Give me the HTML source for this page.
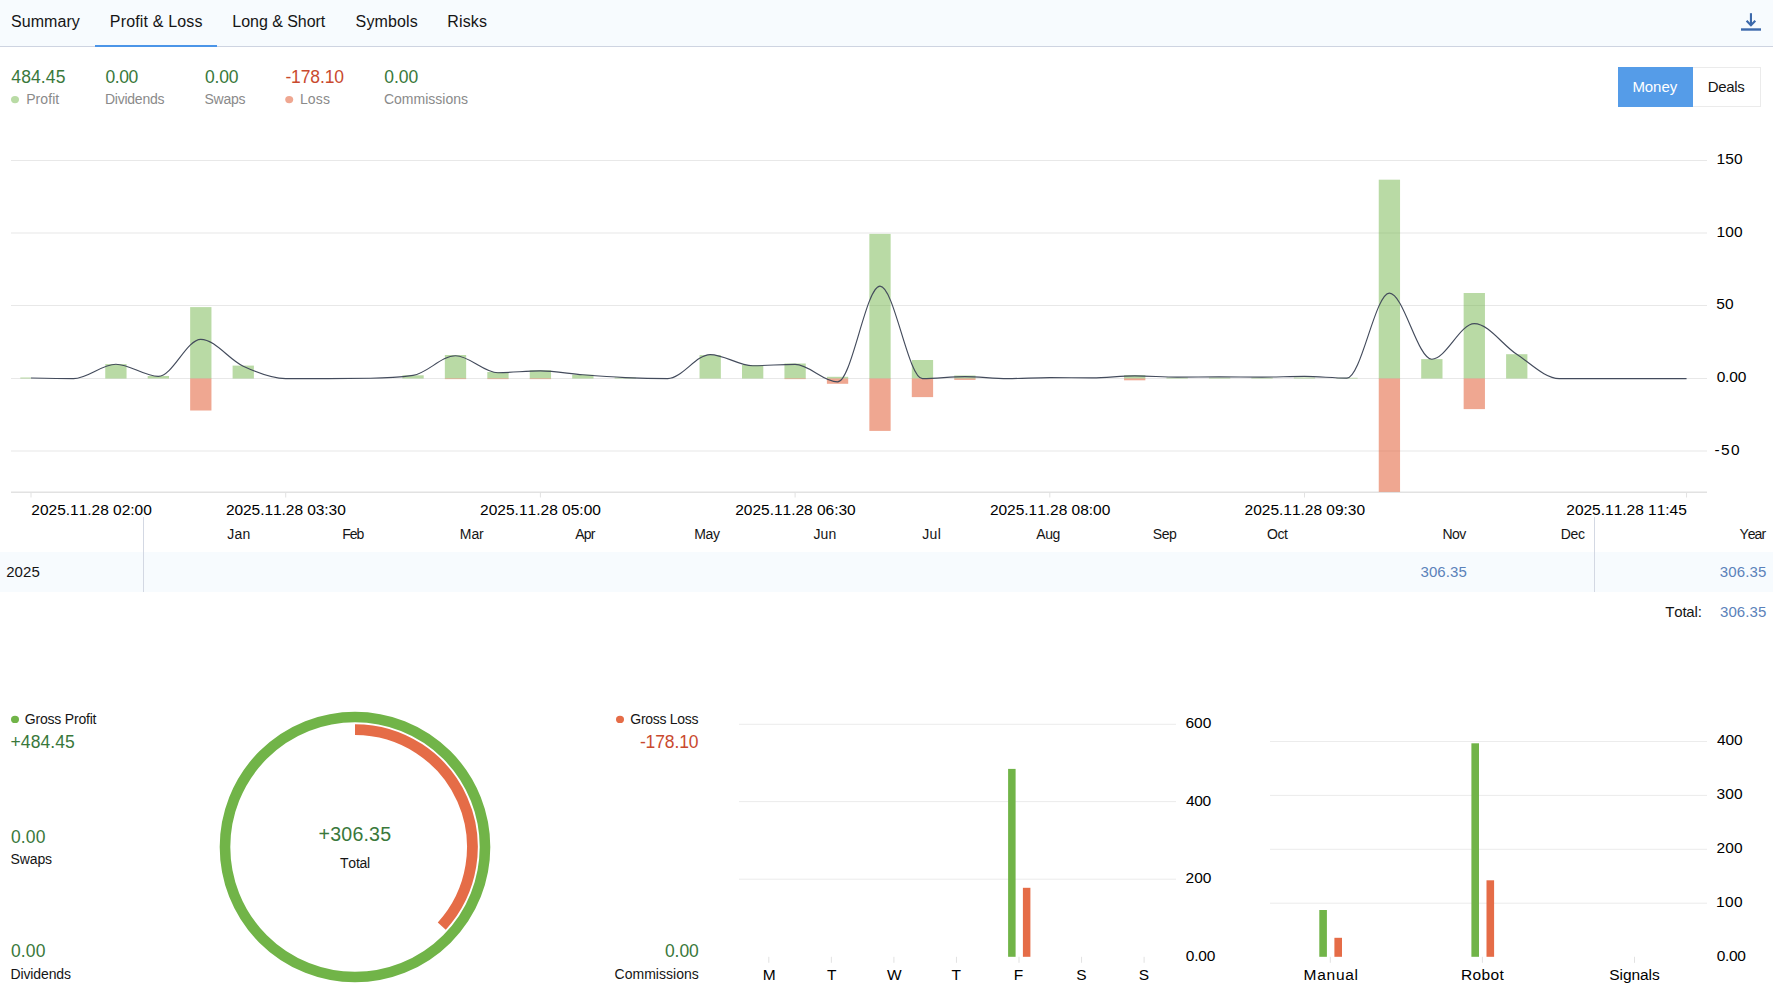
<!DOCTYPE html>
<html><head><meta charset="utf-8"><title>Profit &amp; Loss</title>
<style>
html,body{margin:0;padding:0;background:#fff;}
body{width:1773px;height:995px;position:relative;overflow:hidden;font-family:"Liberation Sans",sans-serif;}
.t{position:absolute;white-space:nowrap;line-height:1.2;font-kerning:none;}

.bar{position:absolute;left:0;top:0;width:1773px;height:46px;background:#f7fbfe;border-bottom:1px solid #ced4e1;box-sizing:content-box;}
.ul{position:absolute;left:95px;top:45px;width:122px;height:2px;background:#4b95e8;}
.btnm{position:absolute;left:1618px;top:67px;width:75px;height:40px;background:#559ce8;}
.btnd{position:absolute;left:1693px;top:67px;width:67px;height:38px;border:1px solid #ebebeb;border-left:none;background:#fff;box-sizing:content-box;}
.row{position:absolute;left:0;top:552px;width:1773px;height:40px;background:#f7fbfe;}
.vl{position:absolute;top:517px;width:1px;height:75px;background:#d3d8e3;}
svg{position:absolute;left:0;top:0;}
</style></head><body>
<div class="bar"></div><div class="ul"></div>
<div class="btnm"></div><div class="btnd"></div>
<div class="row"></div>
<div class="vl" style="left:143px"></div><div class="vl" style="left:1594px"></div>
<svg width="1773" height="995" viewBox="0 0 1773 995">
<rect x="1741" y="28.3" width="20" height="2.4" fill="#3c69ab"/><path d="M1750.95,13.2 V25.5" fill="none" stroke="#3c69ab" stroke-width="2.1"/><path d="M1746.6,20.75 L1750.95,25.15 L1755.3,20.75" fill="none" stroke="#3c69ab" stroke-width="2.2"/>
<rect x="11" y="160.00" width="1696" height="1" fill="#e8e8e8"/>
<rect x="11" y="232.50" width="1696" height="1" fill="#e8e8e8"/>
<rect x="11" y="305.00" width="1696" height="1" fill="#e8e8e8"/>
<rect x="11" y="378.00" width="1696" height="1" fill="#e8e8e8"/>
<rect x="11" y="450.50" width="1696" height="1" fill="#e8e8e8"/>
<rect x="11" y="491.5" width="1696" height="1.5" fill="#e2e2e2"/>
<rect x="30.50" y="492" width="1" height="5.5" fill="#e2e2e2"/>
<rect x="285.20" y="492" width="1" height="5.5" fill="#e2e2e2"/>
<rect x="539.90" y="492" width="1" height="5.5" fill="#e2e2e2"/>
<rect x="794.60" y="492" width="1" height="5.5" fill="#e2e2e2"/>
<rect x="1049.30" y="492" width="1" height="5.5" fill="#e2e2e2"/>
<rect x="1304.00" y="492" width="1" height="5.5" fill="#e2e2e2"/>
<rect x="1686.05" y="492" width="1" height="5.5" fill="#e2e2e2"/>
<rect x="20.35" y="377.50" width="10.65" height="1.00" fill="#71b448" fill-opacity="0.49"/>
<rect x="105.25" y="364.10" width="21.30" height="14.40" fill="#71b448" fill-opacity="0.49"/>
<rect x="147.70" y="376.00" width="21.30" height="2.50" fill="#71b448" fill-opacity="0.49"/>
<rect x="190.15" y="307.10" width="21.30" height="71.40" fill="#71b448" fill-opacity="0.49"/>
<rect x="232.60" y="365.60" width="21.30" height="12.90" fill="#71b448" fill-opacity="0.49"/>
<rect x="402.40" y="375.30" width="21.30" height="3.20" fill="#71b448" fill-opacity="0.49"/>
<rect x="444.85" y="355.00" width="21.30" height="23.50" fill="#71b448" fill-opacity="0.49"/>
<rect x="487.30" y="372.00" width="21.30" height="6.50" fill="#71b448" fill-opacity="0.49"/>
<rect x="529.75" y="370.20" width="21.30" height="8.30" fill="#71b448" fill-opacity="0.49"/>
<rect x="572.20" y="374.70" width="21.30" height="3.80" fill="#71b448" fill-opacity="0.49"/>
<rect x="614.65" y="377.50" width="21.30" height="1.00" fill="#71b448" fill-opacity="0.49"/>
<rect x="699.55" y="355.10" width="21.30" height="23.40" fill="#71b448" fill-opacity="0.49"/>
<rect x="742.00" y="365.00" width="21.30" height="13.50" fill="#71b448" fill-opacity="0.49"/>
<rect x="784.45" y="363.50" width="21.30" height="15.00" fill="#71b448" fill-opacity="0.49"/>
<rect x="826.90" y="376.80" width="21.30" height="1.70" fill="#71b448" fill-opacity="0.49"/>
<rect x="869.35" y="233.90" width="21.30" height="144.60" fill="#71b448" fill-opacity="0.49"/>
<rect x="911.80" y="360.00" width="21.30" height="18.50" fill="#71b448" fill-opacity="0.49"/>
<rect x="954.25" y="375.50" width="21.30" height="3.00" fill="#71b448" fill-opacity="0.49"/>
<rect x="1124.05" y="375.10" width="21.30" height="3.40" fill="#71b448" fill-opacity="0.49"/>
<rect x="1166.50" y="377.50" width="21.30" height="1.00" fill="#71b448" fill-opacity="0.49"/>
<rect x="1208.95" y="377.50" width="21.30" height="1.00" fill="#71b448" fill-opacity="0.49"/>
<rect x="1251.40" y="377.50" width="21.30" height="1.00" fill="#71b448" fill-opacity="0.49"/>
<rect x="1293.85" y="377.50" width="21.30" height="1.00" fill="#71b448" fill-opacity="0.49"/>
<rect x="1336.30" y="377.80" width="21.30" height="0.70" fill="#71b448" fill-opacity="0.49"/>
<rect x="1378.75" y="179.70" width="21.30" height="198.80" fill="#71b448" fill-opacity="0.49"/>
<rect x="1421.20" y="359.10" width="21.30" height="19.40" fill="#71b448" fill-opacity="0.49"/>
<rect x="1463.65" y="293.00" width="21.30" height="85.50" fill="#71b448" fill-opacity="0.49"/>
<rect x="1506.10" y="354.20" width="21.30" height="24.30" fill="#71b448" fill-opacity="0.49"/>
<rect x="190.15" y="378.50" width="21.30" height="32.00" fill="#e56c47" fill-opacity="0.6"/>
<rect x="444.85" y="378.50" width="21.30" height="0.60" fill="#e56c47" fill-opacity="0.6"/>
<rect x="487.30" y="378.50" width="21.30" height="0.60" fill="#e56c47" fill-opacity="0.6"/>
<rect x="529.75" y="378.50" width="21.30" height="0.60" fill="#e56c47" fill-opacity="0.6"/>
<rect x="784.45" y="378.50" width="21.30" height="0.60" fill="#e56c47" fill-opacity="0.6"/>
<rect x="826.90" y="378.50" width="21.30" height="5.30" fill="#e56c47" fill-opacity="0.6"/>
<rect x="869.35" y="378.50" width="21.30" height="52.40" fill="#e56c47" fill-opacity="0.6"/>
<rect x="911.80" y="378.50" width="21.30" height="18.60" fill="#e56c47" fill-opacity="0.6"/>
<rect x="954.25" y="378.50" width="21.30" height="1.40" fill="#e56c47" fill-opacity="0.6"/>
<rect x="1124.05" y="378.50" width="21.30" height="1.80" fill="#e56c47" fill-opacity="0.6"/>
<rect x="1378.75" y="378.50" width="21.30" height="113.40" fill="#e56c47" fill-opacity="0.6"/>
<rect x="1463.65" y="378.50" width="21.30" height="30.60" fill="#e56c47" fill-opacity="0.6"/>
<path d="M31.00,378.00C45.15,378.30 59.30,378.60 73.45,378.60C87.60,378.60 101.75,364.20 115.90,364.20C130.05,364.20 144.20,376.40 158.35,376.40C172.50,376.40 186.65,339.30 200.80,339.30C214.95,339.30 229.10,359.75 243.25,366.30C257.40,372.85 271.55,378.60 285.70,378.60C299.85,378.60 314.00,378.60 328.15,378.60C342.30,378.60 356.45,378.50 370.60,378.30C384.75,378.10 398.90,377.33 413.05,375.40C427.20,373.47 441.35,355.70 455.50,355.70C469.65,355.70 483.80,372.70 497.95,372.70C512.10,372.70 526.25,370.90 540.40,370.90C554.55,370.90 568.70,373.68 582.85,374.80C597.00,375.92 611.15,376.97 625.30,377.60C639.45,378.23 653.60,378.60 667.75,378.60C681.90,378.60 696.05,354.60 710.20,354.60C724.35,354.60 738.50,365.70 752.65,365.70C766.80,365.70 780.95,364.40 795.10,364.40C809.25,364.40 823.40,381.90 837.55,381.90C851.70,381.90 865.85,286.20 880.00,286.20C894.15,286.20 908.30,378.60 922.45,378.60C936.60,378.60 950.75,376.60 964.90,376.60C979.05,376.60 993.20,378.60 1007.35,378.60C1021.50,378.60 1035.65,377.60 1049.80,377.60C1063.95,377.60 1078.10,377.90 1092.25,377.90C1106.40,377.90 1120.55,375.90 1134.70,375.90C1148.85,375.90 1163.00,377.10 1177.15,377.10C1191.30,377.10 1205.45,376.80 1219.60,376.80C1233.75,376.80 1247.90,377.10 1262.05,377.10C1276.20,377.10 1290.35,376.40 1304.50,376.40C1318.65,376.40 1332.80,378.10 1346.95,378.10C1361.10,378.10 1375.25,293.10 1389.40,293.10C1403.55,293.10 1417.70,359.20 1431.85,359.20C1446.00,359.20 1460.15,323.60 1474.30,323.60C1488.45,323.60 1502.60,345.13 1516.75,354.30C1530.90,363.47 1545.05,378.60 1559.20,378.60C1573.35,378.60 1587.50,378.60 1601.65,378.60C1615.80,378.60 1629.95,378.60 1644.10,378.60C1658.25,378.60 1672.40,378.60 1686.55,378.60" fill="none" stroke="#434b5c" stroke-width="1.15"/>
<circle cx="355" cy="847" r="130" fill="none" stroke="#71b448" stroke-width="10.6"/>
<path d="M355.00,729.60 A117.4,117.4 0 0 1 441.77,926.08" fill="none" stroke="#e56c47" stroke-width="10.8"/>
<ellipse cx="15" cy="719.4" rx="4" ry="3.7" fill="#71b448"/>
<ellipse cx="620" cy="719.4" rx="4" ry="3.7" fill="#e56c47"/>
<ellipse cx="15" cy="99.6" rx="4" ry="3.6" fill="#b9dba5"/>
<ellipse cx="289.2" cy="99.6" rx="4" ry="3.6" fill="#efa791"/>
<rect x="739" y="723.80" width="437" height="1" fill="#ececec"/>
<rect x="739" y="801.10" width="437" height="1" fill="#ececec"/>
<rect x="739" y="878.70" width="437" height="1" fill="#ececec"/>
<rect x="768.30" y="956.8" width="1" height="6" fill="#e2e2e2"/>
<rect x="830.85" y="956.8" width="1" height="6" fill="#e2e2e2"/>
<rect x="893.40" y="956.8" width="1" height="6" fill="#e2e2e2"/>
<rect x="955.95" y="956.8" width="1" height="6" fill="#e2e2e2"/>
<rect x="1018.50" y="956.8" width="1" height="6" fill="#e2e2e2"/>
<rect x="1081.05" y="956.8" width="1" height="6" fill="#e2e2e2"/>
<rect x="1143.60" y="956.8" width="1" height="6" fill="#e2e2e2"/>
<rect x="1008.10" y="768.9" width="7.5" height="187.90" fill="#71b448"/>
<rect x="1022.90" y="887.8" width="7.5" height="69.00" fill="#e56c47"/>
<rect x="1270" y="741.00" width="437" height="1" fill="#ececec"/>
<rect x="1270" y="794.90" width="437" height="1" fill="#ececec"/>
<rect x="1270" y="848.80" width="437" height="1" fill="#ececec"/>
<rect x="1270" y="902.70" width="437" height="1" fill="#ececec"/>
<rect x="1329.80" y="956.8" width="1" height="6" fill="#e2e2e2"/>
<rect x="1481.90" y="956.8" width="1" height="6" fill="#e2e2e2"/>
<rect x="1634.00" y="956.8" width="1" height="6" fill="#e2e2e2"/>
<rect x="1319.30" y="910.00" width="7.6" height="46.80" fill="#71b448"/>
<rect x="1334.40" y="937.80" width="7.6" height="19.00" fill="#e56c47"/>
<rect x="1471.40" y="743.30" width="7.6" height="213.50" fill="#71b448"/>
<rect x="1486.50" y="880.30" width="7.6" height="76.50" fill="#e56c47"/>
</svg>
<span class="t" id="tab1" style="left:10.94px;top:12.00px;font-size:16px;color:#151515;letter-spacing:0.075px">Summary</span>
<span class="t" id="tab2" style="left:109.86px;top:12.00px;font-size:16px;color:#151515;letter-spacing:0.152px">Profit &amp; Loss</span>
<span class="t" id="tab3" style="left:232.33px;top:12.00px;font-size:16px;color:#151515;letter-spacing:-0.044px">Long &amp; Short</span>
<span class="t" id="tab4" style="left:355.61px;top:12.00px;font-size:16px;color:#151515;letter-spacing:0.125px">Symbols</span>
<span class="t" id="tab5" style="left:447.28px;top:12.00px;font-size:16px;color:#151515;letter-spacing:0.143px">Risks</span>
<span class="t" id="sv1" style="left:11.31px;top:66.60px;font-size:17.5px;color:#39783b;letter-spacing:0.119px">484.45</span>
<span class="t" id="sv2" style="left:105.38px;top:66.60px;font-size:17.5px;color:#39783b;letter-spacing:-0.376px">0.00</span>
<span class="t" id="sv3" style="left:205.00px;top:66.60px;font-size:17.5px;color:#39783b;letter-spacing:-0.225px">0.00</span>
<span class="t" id="sv4" style="left:285.38px;top:66.60px;font-size:17.5px;color:#c9492e;letter-spacing:-0.126px">-178.10</span>
<span class="t" id="sv5" style="left:384.22px;top:66.60px;font-size:17.5px;color:#39783b;letter-spacing:-0.042px">0.00</span>
<span class="t" id="sl1" style="left:26.20px;top:90.70px;font-size:14px;color:#8a8a8a;letter-spacing:0.067px">Profit</span>
<span class="t" id="sl2" style="left:104.88px;top:90.70px;font-size:14px;color:#8a8a8a;letter-spacing:-0.224px">Dividends</span>
<span class="t" id="sl3" style="left:204.58px;top:90.70px;font-size:14px;color:#8a8a8a;letter-spacing:-0.299px">Swaps</span>
<span class="t" id="sl4" style="left:299.94px;top:90.70px;font-size:14px;color:#8a8a8a;letter-spacing:0.130px">Loss</span>
<span class="t" id="sl5" style="left:383.97px;top:90.70px;font-size:14px;color:#8a8a8a;letter-spacing:0.000px">Commissions</span>
<span class="t" id="btn1" style="left:1632.41px;top:78.20px;font-size:15px;color:#ffffff;letter-spacing:-0.070px">Money</span>
<span class="t" id="btn2" style="left:1707.83px;top:78.20px;font-size:15px;color:#151515;letter-spacing:-0.328px">Deals</span>
<span class="t c" id="y150" style="left:1716.41px;top:149.50px;font-size:15.5px;color:#000000;letter-spacing:0.212px">150</span>
<span class="t c" id="y100" style="left:1716.41px;top:223.00px;font-size:15.5px;color:#000000;letter-spacing:0.212px">100</span>
<span class="t c" id="y50" style="left:1716.28px;top:295.00px;font-size:15.5px;color:#000000;letter-spacing:0.202px">50</span>
<span class="t c" id="y0" style="left:1716.64px;top:367.50px;font-size:15.5px;color:#000000;letter-spacing:-0.154px">0.00</span>
<span class="t c" id="ym50" style="left:1714.38px;top:441.20px;font-size:15.5px;color:#000000;letter-spacing:1.444px">-50</span>
<span class="t c" id="x1" style="left:31.30px;top:500.80px;font-size:15.5px;color:#000000;letter-spacing:-0.011px">2025.11.28 02:00</span>
<span class="t c" id="x2" style="left:225.91px;top:500.80px;font-size:15.5px;color:#000000;letter-spacing:-0.054px">2025.11.28 03:30</span>
<span class="t c" id="x3" style="left:480.08px;top:500.80px;font-size:15.5px;color:#000000;letter-spacing:0.012px">2025.11.28 05:00</span>
<span class="t c" id="x4" style="left:735.22px;top:500.80px;font-size:15.5px;color:#000000;letter-spacing:-0.013px">2025.11.28 06:30</span>
<span class="t c" id="x5" style="left:989.91px;top:500.80px;font-size:15.5px;color:#000000;letter-spacing:-0.019px">2025.11.28 08:00</span>
<span class="t c" id="x6" style="left:1244.59px;top:500.80px;font-size:15.5px;color:#000000;letter-spacing:-0.015px">2025.11.28 09:30</span>
<span class="t c" id="x7" style="left:1566.30px;top:500.80px;font-size:15.5px;color:#000000;letter-spacing:-0.012px">2025.11.28 11:45</span>
<span class="t" id="m0" style="left:227.30px;top:526.10px;font-size:14px;color:#151515;letter-spacing:0.155px">Jan</span>
<span class="t" id="m1" style="left:342.16px;top:526.10px;font-size:14px;color:#151515;letter-spacing:-1.031px">Feb</span>
<span class="t" id="m2" style="left:459.81px;top:526.10px;font-size:14px;color:#151515;letter-spacing:-0.066px">Mar</span>
<span class="t" id="m3" style="left:575.14px;top:526.10px;font-size:14px;color:#151515;letter-spacing:-0.715px">Apr</span>
<span class="t" id="m4" style="left:694.16px;top:526.10px;font-size:14px;color:#151515;letter-spacing:-0.248px">May</span>
<span class="t" id="m5" style="left:813.44px;top:526.10px;font-size:14px;color:#151515;letter-spacing:0.116px">Jun</span>
<span class="t" id="m6" style="left:922.16px;top:526.10px;font-size:14px;color:#151515;letter-spacing:0.351px">Jul</span>
<span class="t" id="m7" style="left:1036.36px;top:526.10px;font-size:14px;color:#151515;letter-spacing:-0.553px">Aug</span>
<span class="t" id="m8" style="left:1152.75px;top:526.10px;font-size:14px;color:#151515;letter-spacing:-0.378px">Sep</span>
<span class="t" id="m9" style="left:1266.91px;top:526.10px;font-size:14px;color:#151515;letter-spacing:-0.356px">Oct</span>
<span class="t" id="m10" style="left:1442.38px;top:526.10px;font-size:14px;color:#151515;letter-spacing:-0.524px">Nov</span>
<span class="t" id="m11" style="left:1560.64px;top:526.10px;font-size:14px;color:#151515;letter-spacing:-0.259px">Dec</span>
<span class="t" id="m12" style="left:1739.38px;top:526.10px;font-size:14px;color:#151515;letter-spacing:-0.967px">Year</span>
<span class="t" id="r2025" style="left:6.23px;top:563.00px;font-size:15px;color:#151515;letter-spacing:0.058px">2025</span>
<span class="t" id="rnov" style="left:1420.52px;top:563.00px;font-size:15px;color:#5b82ba;letter-spacing:0.079px">306.35</span>
<span class="t" id="ryear" style="left:1719.80px;top:563.00px;font-size:15px;color:#5b82ba;letter-spacing:0.113px">306.35</span>
<span class="t" id="tot" style="left:1665.28px;top:602.80px;font-size:15px;color:#151515;letter-spacing:-0.192px">Total:</span>
<span class="t" id="totv" style="left:1719.98px;top:602.80px;font-size:15px;color:#5b82ba;letter-spacing:0.076px">306.35</span>
<span class="t" id="gp" style="left:24.81px;top:711.00px;font-size:14px;color:#151515;letter-spacing:-0.205px">Gross Profit</span>
<span class="t" id="gpv" style="left:10.55px;top:731.60px;font-size:17.5px;color:#39783b;letter-spacing:0.094px">+484.45</span>
<span class="t" id="swv" style="left:11.00px;top:826.90px;font-size:17.5px;color:#39783b;letter-spacing:0.121px">0.00</span>
<span class="t" id="sw" style="left:10.45px;top:850.90px;font-size:14px;color:#151515;letter-spacing:-0.090px">Swaps</span>
<span class="t" id="dvv" style="left:11.00px;top:941.30px;font-size:17.5px;color:#39783b;letter-spacing:0.121px">0.00</span>
<span class="t" id="dv" style="left:10.50px;top:965.60px;font-size:14px;color:#151515;letter-spacing:-0.128px">Dividends</span>
<span class="t" id="ctv" style="left:318.61px;top:822.70px;font-size:19.6px;color:#39783b;letter-spacing:0.185px">+306.35</span>
<span class="t" id="ct" style="left:340.05px;top:854.80px;font-size:14px;color:#151515;letter-spacing:-0.250px">Total</span>
<span class="t" id="gl" style="left:630.30px;top:710.80px;font-size:14px;color:#151515;letter-spacing:-0.293px">Gross Loss</span>
<span class="t" id="glv" style="left:639.91px;top:731.90px;font-size:17.5px;color:#c9492e;letter-spacing:-0.115px">-178.10</span>
<span class="t" id="cmv" style="left:664.94px;top:941.30px;font-size:17.5px;color:#39783b;letter-spacing:-0.075px">0.00</span>
<span class="t" id="cm" style="left:614.56px;top:966.00px;font-size:14px;color:#151515;letter-spacing:0.025px">Commissions</span>
<span class="t c" id="d600" style="left:1185.56px;top:714.20px;font-size:15.5px;color:#000000;letter-spacing:-0.047px">600</span>
<span class="t c" id="d400" style="left:1186.09px;top:792.20px;font-size:15.5px;color:#000000;letter-spacing:-0.359px">400</span>
<span class="t c" id="d200" style="left:1185.59px;top:869.40px;font-size:15.5px;color:#000000;letter-spacing:-0.071px">200</span>
<span class="t c" id="d0" style="left:1185.77px;top:947.30px;font-size:15.5px;color:#000000;letter-spacing:-0.228px">0.00</span>
<span class="t c" id="dl0" style="left:762.72px;top:966.20px;font-size:15.5px;color:#000000;letter-spacing:0.000px">M</span>
<span class="t c" id="dl1" style="left:827.06px;top:966.20px;font-size:15.5px;color:#000000;letter-spacing:0.000px">T</span>
<span class="t c" id="dl2" style="left:886.91px;top:966.20px;font-size:15.5px;color:#000000;letter-spacing:0.000px">W</span>
<span class="t c" id="dl3" style="left:951.62px;top:966.20px;font-size:15.5px;color:#000000;letter-spacing:0.000px">T</span>
<span class="t c" id="dl4" style="left:1013.84px;top:966.20px;font-size:15.5px;color:#000000;letter-spacing:0.000px">F</span>
<span class="t c" id="dl5" style="left:1076.22px;top:966.20px;font-size:15.5px;color:#000000;letter-spacing:0.000px">S</span>
<span class="t c" id="dl6" style="left:1138.72px;top:966.20px;font-size:15.5px;color:#000000;letter-spacing:0.000px">S</span>
<span class="t c" id="t400" style="left:1716.88px;top:731.30px;font-size:15.5px;color:#000000;letter-spacing:-0.033px">400</span>
<span class="t c" id="t300" style="left:1716.41px;top:785.30px;font-size:15.5px;color:#000000;letter-spacing:0.223px">300</span>
<span class="t c" id="t200" style="left:1716.50px;top:839.30px;font-size:15.5px;color:#000000;letter-spacing:0.188px">200</span>
<span class="t c" id="t100" style="left:1716.05px;top:893.30px;font-size:15.5px;color:#000000;letter-spacing:0.397px">100</span>
<span class="t c" id="t0" style="left:1716.64px;top:947.00px;font-size:15.5px;color:#000000;letter-spacing:-0.267px">0.00</span>
<span class="t c" id="tl0" style="left:1303.61px;top:966.20px;font-size:15.5px;color:#000000;letter-spacing:0.716px">Manual</span>
<span class="t c" id="tl1" style="left:1460.91px;top:966.20px;font-size:15.5px;color:#000000;letter-spacing:0.404px">Robot</span>
<span class="t c" id="tl2" style="left:1609.30px;top:966.20px;font-size:15.5px;color:#000000;letter-spacing:-0.070px">Signals</span>
</body></html>
